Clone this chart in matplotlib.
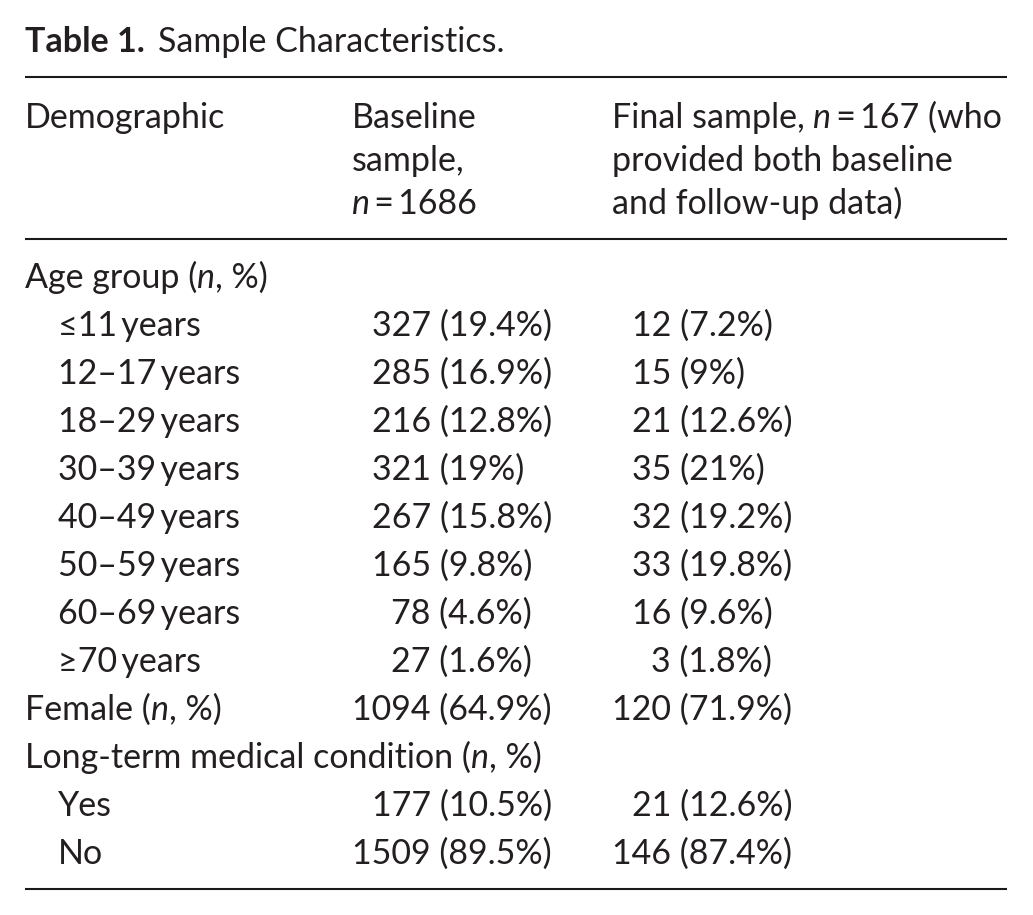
import matplotlib
matplotlib.use("Agg")
import matplotlib.pyplot as plt

plt.rcParams['font.family'] = ['Lato', 'DejaVu Sans']

# ---------------- data ----------------
title_bold = "Table 1."
title_rest = "Sample Characteristics."

# header cells: list of lines, each line a list of (text, italic) runs
header_col1 = [[("Demographic", False)]]
header_col2 = [[("Baseline", False)], [("sample,", False)], [("n", True), ("\u2009=\u20091686", False)]]
header_col3 = [[("Final sample, ", False), ("n", True), ("\u2009=\u2009167 (who", False)],
               [("provided both baseline", False)],
               [("and follow-up data)", False)]]

row_labels = [
    [("Age group (", False), ("n", True), (", %)", False)],
    [("\u226411\u2009years", False)],
    [("12\u201317\u2009years", False)],
    [("18\u201329\u2009years", False)],
    [("30\u201339\u2009years", False)],
    [("40\u201349\u2009years", False)],
    [("50\u201359\u2009years", False)],
    [("60\u201369\u2009years", False)],
    [("\u226570\u2009years", False)],
    [("Female (", False), ("n", True), (", %)", False)],
    [("Long-term medical condition (", False), ("n", True), (", %)", False)],
    [("Yes", False)],
    [("No", False)],
]
row_indent = [False, True, True, True, True, True, True, True, True, False, False, True, True]

baseline_n = [None, "327", "285", "216", "321", "267", "165", "78", "27", "1094", None, "177", "1509"]
baseline_pct = [None, "19.4%", "16.9%", "12.8%", "19%", "15.8%", "9.8%", "4.6%", "1.6%", "64.9%", None, "10.5%", "89.5%"]
final_n = [None, "12", "15", "21", "35", "32", "33", "16", "3", "120", None, "21", "146"]
final_pct = [None, "7.2%", "9%", "12.6%", "21%", "19.2%", "19.8%", "9.6%", "1.8%", "71.9%", None, "12.6%", "87.4%"]

# ---------------- layout ----------------
W, H = 1033, 915
FS = 24.5
TXT = "#231f20"
X_LEFT, X_RIGHT = 25, 1007
X_INDENT = 58
X_COL2, X_COL3 = 352, 612
Y_TITLE = 52
Y_RULE_TOP, Y_RULE_MID, Y_RULE_BOT = 77, 239, 889
Y_HEAD0, HEAD_STEP = 128, 43
Y_ROW0, ROW_STEP = 288, 48
TITLE_GAP_EM = 0.4

fig = plt.figure(figsize=(W / 100, H / 100), dpi=100)
ax = fig.add_axes([0, 0, 1, 1])
ax.set_xlim(0, W)
ax.set_ylim(H, 0)
ax.axis("off")
renderer = fig.canvas.get_renderer()


def ink_w(s, **kw):
    t = ax.text(0, 0, s, fontsize=FS, **kw)
    w = t.get_window_extent(renderer).width
    t.remove()
    return w


def adv(s, **kw):
    return ink_w(s + "H", **kw) - ink_w("H", **kw)


def draw_runs(x, y, runs, weight="normal"):
    for s, it in runs:
        kw = dict(fontstyle="italic" if it else "normal", fontweight=weight)
        ax.text(x, y, s, fontsize=FS, color=TXT, va="baseline", ha="left", **kw)
        x += adv(s, **kw)


# title
em_px = FS / 72 * 100
ax.text(X_LEFT, Y_TITLE, title_bold, fontsize=FS, fontweight="bold", color=TXT, va="baseline")
x2 = X_LEFT + adv(title_bold, fontweight="bold") + TITLE_GAP_EM * em_px
ax.text(x2, Y_TITLE, title_rest, fontsize=FS, color=TXT, va="baseline")

# rules
for y in (Y_RULE_TOP, Y_RULE_MID, Y_RULE_BOT):
    ax.plot([X_LEFT, X_RIGHT], [y, y], color="#1a1a1a", lw=1.5, solid_capstyle="butt")

# header
for col_x, lines in ((X_LEFT, header_col1), (X_COL2, header_col2), (X_COL3, header_col3)):
    for i, runs in enumerate(lines):
        draw_runs(col_x, Y_HEAD0 + i * HEAD_STEP, runs)

# digit advance
w0 = ink_w("00000") - ink_w("0000")

max_b = max(len(v) for v in baseline_n if v)
max_f = max(len(v) for v in final_n if v)

for i, runs in enumerate(row_labels):
    y = Y_ROW0 + i * ROW_STEP
    draw_runs(X_INDENT if row_indent[i] else X_LEFT, y, runs)
    if baseline_n[i] is not None:
        xb = X_COL2 + (max_b - len(baseline_n[i])) * w0
        ax.text(xb, y, f"{baseline_n[i]} ({baseline_pct[i]})", fontsize=FS, color=TXT, va="baseline")
    if final_n[i] is not None:
        xf = X_COL3 + (max_f - len(final_n[i])) * w0
        ax.text(xf, y, f"{final_n[i]} ({final_pct[i]})", fontsize=FS, color=TXT, va="baseline")

fig.savefig("out.png", dpi=100, facecolor="white")
